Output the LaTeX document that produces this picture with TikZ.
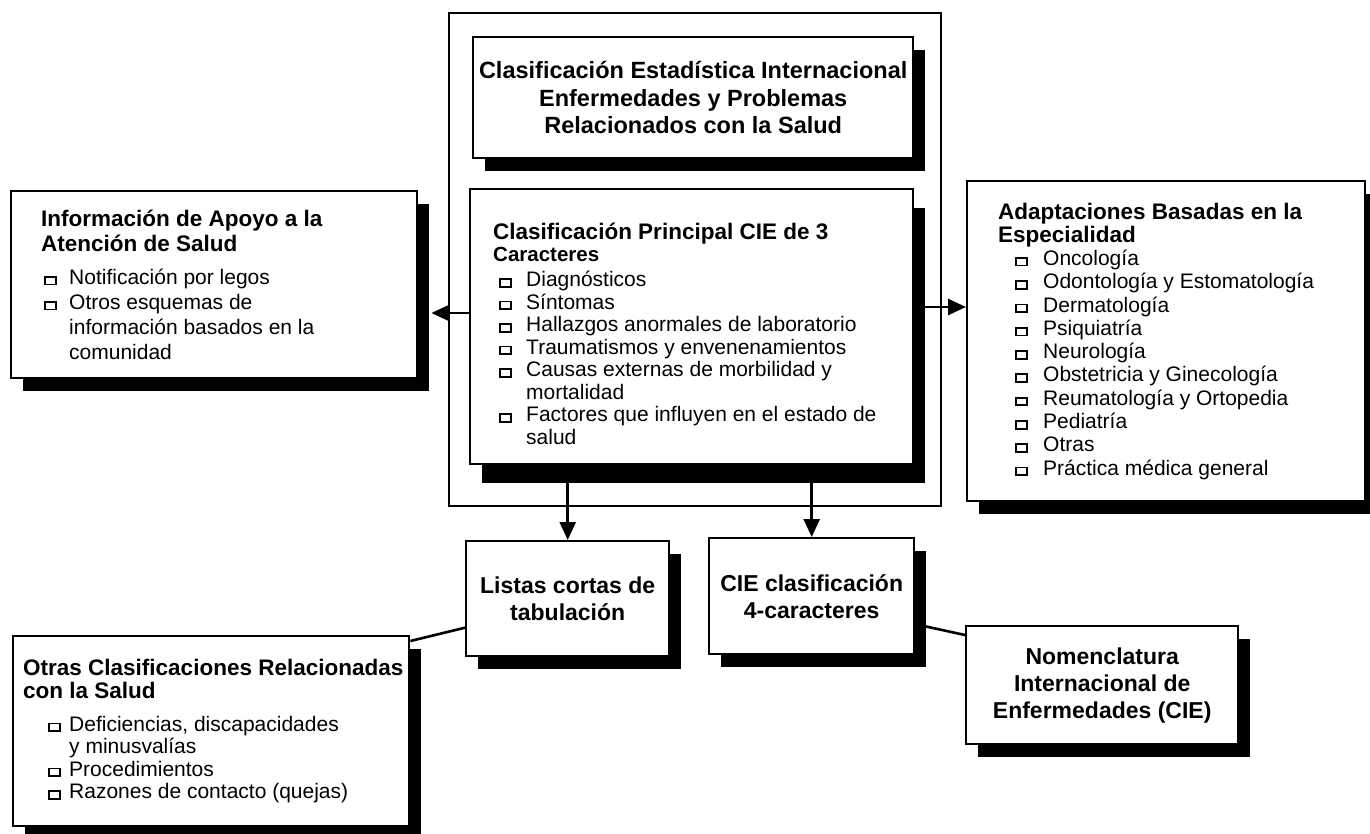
\documentclass[tikz,border=0pt]{standalone}
\usepackage{fontspec}
\setmainfont{Liberation Sans}
\usetikzlibrary{arrows.meta,shadows}

\newlength{\bulx}
\newlength{\txtx}
\newcommand{\sq}{{\fboxsep=0pt\fboxrule=1.8pt\fbox{\rule{0pt}{5.9pt}\hspace{9.4pt}}}}
\newcommand{\itm}{\hspace*{\bulx}\makebox[\dimexpr\txtx-\bulx\relax][l]{\raisebox{0.8pt}{\sq}}}
\newcommand{\cnt}{\hspace*{\txtx}}
\newcommand{\ini}[3]{\spaceskip=0pt\xspaceskip=0pt\hyphenpenalty=10000\leftskip=#1pt\setlength{\bulx}{#2pt}\setlength{\txtx}{#3pt}\relax}
\newcommand{\ttl}[2]{{\fontsize{22.5}{#1}\selectfont\bfseries #2\par}}
\newcommand{\lst}[2]{{\fontsize{21}{#1}\selectfont #2\par}}

\tikzset{
  caja/.style={draw, line width=2.4pt, fill=white, inner xsep=0pt, inner ysep=0pt,
    anchor=north west,
    drop shadow={shadow xshift=12pt, shadow yshift=-#1, fill=black, opacity=1}},
  caja/.default=13pt,
  centro/.style={align=center, font={\fontsize{23}{27}\selectfont\bfseries}},
  flecha/.style={line width=2.6pt, -{Triangle[length=18pt,width=16pt]}},
  linea/.style={line width=2.6pt}
}

\begin{document}
\begin{tikzpicture}[x=1pt,y=-1pt]
\useasboundingbox (0,0) rectangle (1370,834);
\node[draw, line width=2.2pt, anchor=north west, minimum width=492, minimum height=493] (marco) at (448,12) {};
\node[caja, centro, minimum width=440, minimum height=121,
  font={\fontsize{23.5}{27.5}\selectfont\bfseries}] (estad) at (472,36)
  {Clasificación Estadística Internacional\\Enfermedades y Problemas\\Relacionados con la Salud};
\node[caja=19pt, minimum width=443, minimum height=275, text width=439, align=left] (ppal) at (469,188)
  {\ini{21}{6}{33}\par\vspace*{8pt}%
  \ttl{22}{Clasificación Principal CIE de 3\\{\fontsize{20.5}{22}\selectfont Caracteres}}%
  \vspace{3pt}%
  \lst{22.5}{\itm Diagnósticos\\
  \itm Síntomas\\
  \itm Hallazgos anormales de laboratorio\\
  \itm Traumatismos y envenenamientos\\
  \itm Causas externas de morbilidad y\\
  \cnt mortalidad\\
  \itm Factores que influyen en el estado de\\
  \cnt salud}};
\node[caja, minimum width=406, minimum height=187, text width=402, align=left] (apoyo) at (10,190)
  {\ini{28}{3}{28}%
  \ttl{25}{Información de Apoyo a la\\Atención de Salud}%
  \vspace{8pt}%
  \lst{25}{\itm Notificación por legos\\
  \itm Otros esquemas de\\
  \cnt información basados en la\\
  \cnt comunidad}};
\node[caja, minimum width=398, minimum height=320, text width=394, align=left] (adapt) at (966,180)
  {\ini{29}{17}{45}%
  \ttl{23}{Adaptaciones Basadas en la\\Especialidad}%
  \lst{23.3}{\itm Oncología\\
  \itm Odontología y Estomatología\\
  \itm Dermatología\\
  \itm Psiquiatría\\
  \itm Neurología\\
  \itm Obstetricia y Ginecología\\
  \itm Reumatología y Ortopedia\\
  \itm Pediatría\\
  \itm Otras\\
  \itm Práctica médica general}};
\node[caja, centro, minimum width=203, minimum height=115] (listas) at (465,540) {Listas cortas de\\tabulación};
\node[caja, centro, minimum width=205, minimum height=116] (cie4) at (708,537) {CIE clasificación\\4-caracteres};
\node[caja, centro, minimum width=272, minimum height=118] (nomen) at (965,625) {Nomenclatura\\Internacional de\\Enfermedades (CIE)};
\node[caja, minimum width=396, minimum height=190, text width=392, align=left] (otras) at (12,635)
  {\ini{8}{25}{46}%
  \ttl{23}{Otras Clasificaciones Relacionadas\\con la Salud}%
  \vspace{10pt}%
  \lst{22.5}{\itm Deficiencias, discapacidades\\
  \cnt y minusvalías\\
  \itm Procedimientos\\
  \itm Razones de contacto (quejas)}};
\draw[flecha] (ppal.west |- 0,313) -- ([xshift=13pt]apoyo.east |- 0,313);
\draw[flecha] (ppal.east |- 0,307) -- (adapt.west |- 0,307);
\draw[flecha] (ppal.south -| listas.north) -- (listas.north);
\draw[flecha] (ppal.south -| cie4.north) -- (cie4.north);
\draw[linea] ([yshift=-29pt]listas.west) -- ([yshift=-6pt]otras.north east);
\draw[linea] ([yshift=-28pt]cie4.east) -- ([yshift=-10pt]nomen.north west);
\end{tikzpicture}
\end{document}
